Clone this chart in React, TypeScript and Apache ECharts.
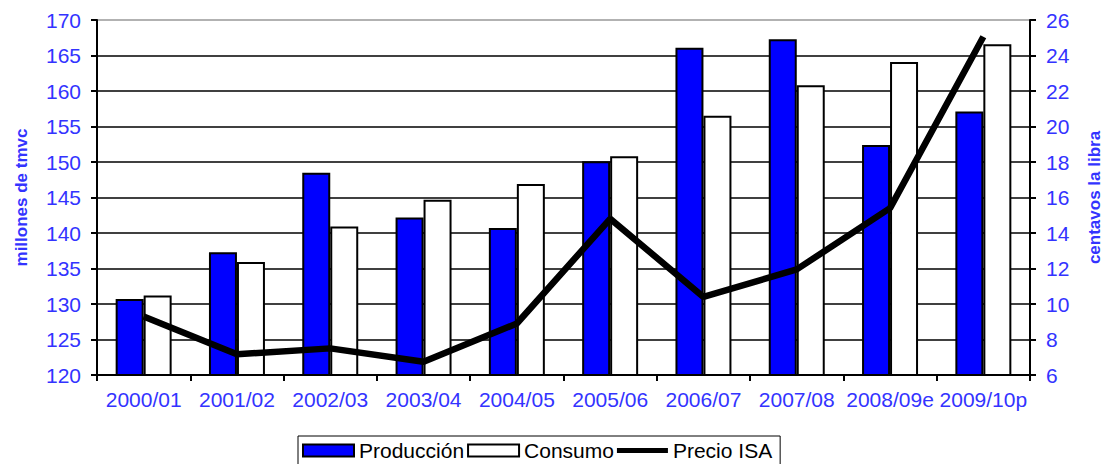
import React, { useEffect, useRef } from "react";
import * as echarts from "echarts";

const categories = ["2000/01", "2001/02", "2002/03", "2003/04", "2004/05", "2005/06", "2006/07", "2007/08", "2008/09e", "2009/10p"];
const produccion = [130.7, 137.3, 148.5, 142.2, 140.7, 150.1, 166.1, 167.3, 152.4, 157.1];
const consumo = [131.2, 135.9, 140.9, 144.7, 146.9, 150.8, 156.5, 160.8, 164.1, 166.6];
const precioISA = [9.3, 7.17, 7.5, 6.75, 8.9, 14.8, 10.4, 11.95, 15.4, 25.06];

const BLUE = "#3333ff";
const FONT = "'Liberation Sans', Arial, sans-serif";

export default function App() {
  const ref = useRef<HTMLDivElement>(null);
  useEffect(() => {
    if (!ref.current) return;
    const chart = echarts.init(ref.current, null, { renderer: "svg" });
    const splitColors = ["#000", "#000", "#000", "#000", "#000", "#000", "#000", "#000", "#000", "#000", "#999"];
    chart.setOption({
      animation: false,
      backgroundColor: "#fff",
      textStyle: { fontFamily: FONT },
      grid: { left: 97, right: 74, top: 20, bottom: 89, containLabel: false, outerBoundsMode: "none" },
      legend: {
        left: 298,
        top: 436,
        padding: [4, 8, 12, 4],
        borderColor: "#000",
        borderWidth: 1,
        backgroundColor: "#fff",
        itemGap: 3,
        itemWidth: 51,
        itemHeight: 12,
        textStyle: { color: "#000", fontSize: 21, fontFamily: FONT, padding: [0, 0, 0, 0] },
        data: [
          { name: "Producción", icon: "rect" },
          { name: "Consumo", icon: "rect" },
          { name: "Precio ISA", icon: "path://M0,0 H50 V5 H0 Z", itemStyle: { color: "#000", borderWidth: 0 } },
        ],
      },
      xAxis: {
        type: "category",
        data: categories,
        boundaryGap: true,
        axisLine: { lineStyle: { color: "#000", width: 2 } },
        axisTick: { show: true, length: 6, lineStyle: { color: "#000", width: 2 } },
        axisLabel: { color: BLUE, fontSize: 21, fontFamily: FONT, margin: 14, interval: 0 },
      },
      yAxis: [
        {
          type: "value",
          min: 120,
          max: 170,
          interval: 5,
          name: "millones de tmvc",
          nameLocation: "middle",
          nameRotate: 90,
          nameGap: 67,
          nameTextStyle: { color: BLUE, fontSize: 17, fontWeight: "bold", fontFamily: FONT },
          axisLine: { show: true, lineStyle: { color: "#000", width: 2 } },
          axisTick: { show: true, length: 6, lineStyle: { color: "#000", width: 2 } },
          axisLabel: { color: BLUE, fontSize: 21, fontFamily: FONT, margin: 16 },
          splitLine: { show: true, lineStyle: { color: splitColors, width: 1.5 } },
        },
        {
          type: "value",
          min: 6,
          max: 26,
          interval: 2,
          name: "centavos la libra",
          nameLocation: "middle",
          nameRotate: 90,
          nameGap: 56,
          nameTextStyle: { color: BLUE, fontSize: 17, fontWeight: "bold", fontFamily: FONT },
          axisLine: { show: true, lineStyle: { color: "#000", width: 2 } },
          axisTick: { show: true, length: 6, lineStyle: { color: "#000", width: 2 } },
          axisLabel: { color: BLUE, fontSize: 21, fontFamily: FONT, margin: 16 },
          splitLine: { show: false },
        },
      ],
      series: [
        {
          name: "Producción",
          type: "bar",
          data: produccion,
          barGap: "0%",
          barCategoryGap: "40%",
          itemStyle: { color: "#0000ff", borderColor: "#000", borderWidth: 2 },
        },
        {
          name: "Consumo",
          type: "bar",
          data: consumo,
          barGap: "0%",
          barCategoryGap: "40%",
          itemStyle: { color: "#fff", borderColor: "#000", borderWidth: 2 },
        },
        {
          name: "Precio ISA",
          type: "line",
          yAxisIndex: 1,
          data: precioISA,
          symbol: "none",
          showSymbol: false,
          lineStyle: { color: "#000", width: 6.5 },
          itemStyle: { color: "#000" },
        },
      ],
    });
    return () => chart.dispose();
  }, []);
  return <div ref={ref} style={{ width: 1104, height: 464, position: "absolute", left: 0, top: 0 }} />;
}
